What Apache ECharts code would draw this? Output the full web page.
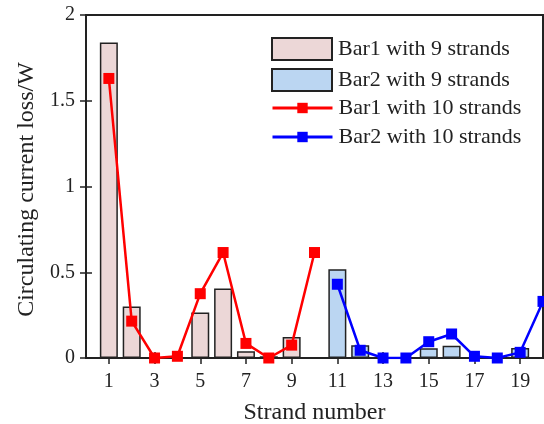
<!DOCTYPE html>
<html>
<head>
<meta charset="utf-8">
<script src="https://cdn.jsdelivr.net/npm/echarts@6/dist/echarts.min.js"></script>
<style>
  html, body { margin: 0; padding: 0; background: #fff; }
  #chart { width: 544px; height: 424px; }
</style>
</head>
<body>
<div id="chart"></div>
<script>
// Strand numbers for each configuration
const bar1Strands9 = [1, 2, 3, 4, 5, 6, 7, 8, 9];
const bar2Strands9 = [11, 12, 13, 14, 15, 16, 17, 18, 19];
const bar1Strands10 = [1, 2, 3, 4, 5, 6, 7, 8, 9, 10];
const bar2Strands10 = [11, 12, 13, 14, 15, 16, 17, 18, 19, 20];

// Circulating current loss (W) per strand
const bar1Loss9 = [1.84, 0.30, 0.004, 0.004, 0.265, 0.405, 0.04, 0.01, 0.123];
const bar2Loss9 = [0.517, 0.075, 0.004, 0.004, 0.057, 0.072, 0.004, 0.004, 0.058];
const bar1Loss10 = [1.63, 0.215, 0, 0.01, 0.375, 0.615, 0.085, 0, 0.075, 0.615];
const bar2Loss10 = [0.43, 0.045, 0, 0, 0.095, 0.14, 0.01, 0, 0.033, 0.33];

// Axis ticks
const xTicks = [1, 3, 5, 7, 9, 11, 13, 15, 17, 19];
const yTicks = [0, 0.5, 1, 1.5, 2];

const seriesNames = ['Bar1 with 9 strands', 'Bar2 with 9 strands', 'Bar1 with 10 strands', 'Bar2 with 10 strands'];

const pair = (xs, ys) => xs.map((x, i) => [x, ys[i]]);

const FONT = 'Liberation Serif';
const INK = '#222';

const chart = echarts.init(document.getElementById('chart'), null, { renderer: 'canvas' });

const tickStyle = { show: true, inside: true, length: 6, lineStyle: { color: INK, width: 1.5 } };
const legendText = { fontFamily: FONT, fontSize: 22, color: INK, lineHeight: 22, padding: [0, 0, 0, 1] };

chart.setOption({
  animation: false,
  backgroundColor: '#fff',
  grid: {
    left: 86, right: 1, top: 15, bottom: 66,
    outerBoundsMode: 'none', containLabel: false,
    show: true, borderColor: INK, borderWidth: 2, backgroundColor: 'transparent'
  },
  legend: [{
    // filled boxes for the bar series
    left: 271, top: 37, padding: 0,
    orient: 'vertical',
    itemWidth: 60, itemHeight: 22, itemGap: 7,
    textStyle: legendText,
    data: [
      { name: seriesNames[0], icon: 'rect' },
      { name: seriesNames[1], icon: 'rect' }
    ]
  }, {
    // line + marker for the line series
    left: 271, top: 97, padding: 0,
    orient: 'vertical',
    itemWidth: 60, itemHeight: 13, itemGap: 7,
    textStyle: legendText,
    lineStyle: { width: 3 },
    data: [seriesNames[2], seriesNames[3]]
  }],
  xAxis: [{
    type: 'value', min: 0, max: 20, position: 'bottom',
    name: 'Strand number', nameLocation: 'middle', nameGap: 43,
    nameTextStyle: { fontFamily: FONT, fontSize: 24, color: INK },
    axisLine: { show: true, lineStyle: { color: INK, width: 2 } },
    axisTick: Object.assign({ customValues: xTicks }, tickStyle),
    axisLabel: { customValues: xTicks, fontFamily: FONT, fontSize: 20, color: INK, margin: 14 },
    splitLine: { show: false }
  }, {
    type: 'value', min: 0, max: 20, position: 'top',
    axisLine: { show: true, lineStyle: { color: INK, width: 2 } },
    axisTick: Object.assign({ customValues: xTicks }, tickStyle),
    axisLabel: { show: false },
    splitLine: { show: false }
  }],
  yAxis: [{
    type: 'value', min: 0, max: 2, interval: 0.5, position: 'left',
    name: 'Circulating current loss/W', nameLocation: 'middle', nameGap: 47,
    nameTextStyle: { fontFamily: FONT, fontSize: 24, color: INK, padding: [0, 6, 0, 0] },
    axisLine: { show: true, lineStyle: { color: INK, width: 2 } },
    axisTick: tickStyle,
    axisLabel: { fontFamily: FONT, fontSize: 20, color: INK, margin: 11,
      formatter: v => yTicks.includes(v) ? String(v) : '' },
    splitLine: { show: false }
  }, {
    type: 'value', min: 0, max: 2, interval: 0.5, position: 'right',
    axisLine: { show: true, lineStyle: { color: INK, width: 2 } },
    axisTick: tickStyle,
    axisLabel: { show: false },
    splitLine: { show: false }
  }],
  series: [{
    name: seriesNames[0], type: 'bar', barWidth: 18, barGap: '-100%',
    itemStyle: { color: '#ecd7d7', borderColor: INK, borderWidth: 1.5 },
    data: pair(bar1Strands9, bar1Loss9), z: 1
  }, {
    name: seriesNames[1], type: 'bar', barWidth: 18, barGap: '-100%',
    itemStyle: { color: '#bbd6f2', borderColor: INK, borderWidth: 1.5 },
    data: pair(bar2Strands9, bar2Loss9), z: 1
  }, {
    name: seriesNames[2], type: 'line', symbol: 'rect', symbolSize: 11,
    lineStyle: { color: '#ff0000', width: 2.5 },
    itemStyle: { color: '#ff0000' },
    data: pair(bar1Strands10, bar1Loss10), z: 5
  }, {
    name: seriesNames[3], type: 'line', symbol: 'rect', symbolSize: 11,
    lineStyle: { color: '#0000ff', width: 2.5 },
    itemStyle: { color: '#0000ff' },
    data: pair(bar2Strands10, bar2Loss10), z: 5
  }]
});
</script>
</body>
</html>
